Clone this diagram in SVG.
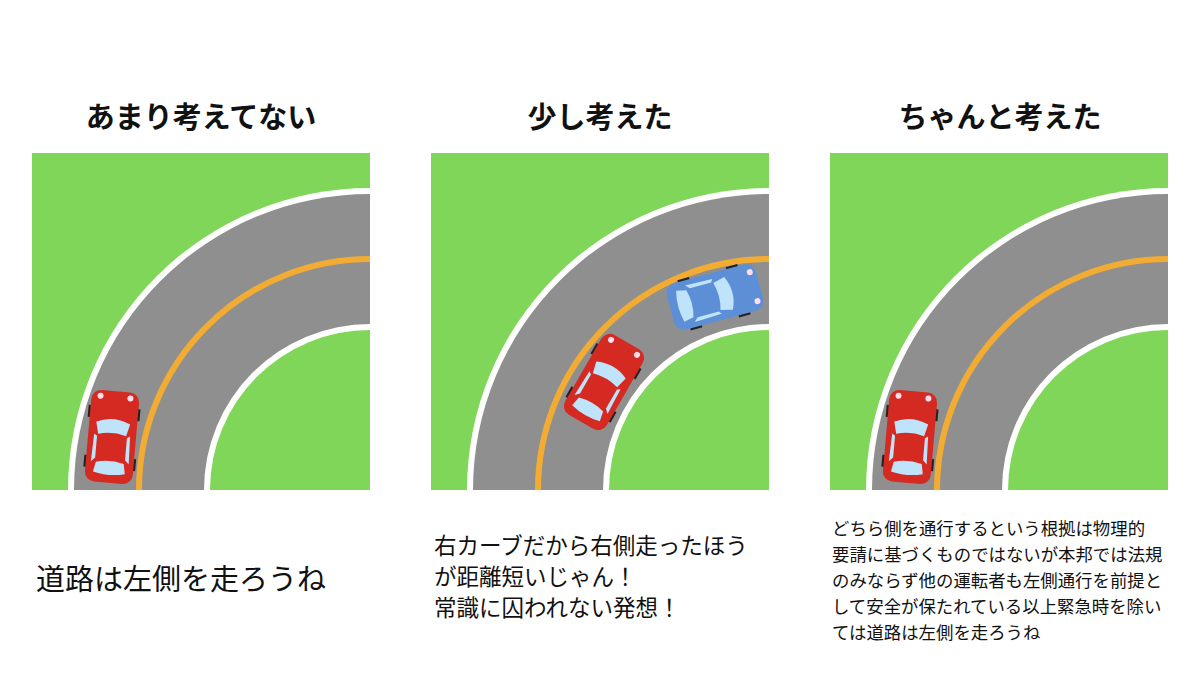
<svg xmlns="http://www.w3.org/2000/svg" width="1200" height="675" viewBox="0 0 1200 675">
<style>
.t{font-family:"Noto Sans CJK JP",sans-serif;font-weight:bold;font-size:29px;text-anchor:middle;fill:#111}
.b{font-family:"Noto Sans CJK JP",sans-serif;fill:#111}
.g{fill:#7fd658}
</style>
<defs>
<g id="road">
<rect class="g" x="0" y="0" width="338" height="337"/>
<circle cx="338" cy="337" r="302" fill="#fff"/>
<circle cx="338" cy="337" r="296" fill="#8f8f8f"/>
<circle cx="338" cy="337" r="231" fill="none" stroke="#f2ac33" stroke-width="6"/>
<circle cx="338" cy="337" r="166" fill="#fff"/>
<circle cx="338" cy="337" r="160" class="g"/>
</g>
<clipPath id="cp"><rect x="0" y="0" width="338" height="337"/></clipPath>
<g id="car">
<rect x="-26" y="-30" width="4" height="12" fill="#222"/><rect x="22" y="-30" width="4" height="12" fill="#222"/>
<rect x="-26" y="20" width="4" height="12" fill="#222"/><rect x="22" y="20" width="4" height="12" fill="#222"/>
<rect x="-24" y="-46" width="48" height="92" rx="10"/>
<path d="M-17,-14 Q0,-22 17,-14 L14,-2 Q0,-6 -14,-2 Z" fill="#bfe3fa"/>
<path d="M-14,26 Q0,22 14,26 L16,36 Q0,40 -16,36 Z" fill="#bfe3fa"/>
<path d="M-18,-2 L-15,0 L-15,22 L-19,26 Z M18,-2 L15,0 L15,22 L19,26 Z" fill="#bfe3fa"/>
<circle cx="-15" cy="-40" r="3" fill="#fde"/><circle cx="15" cy="-40" r="3" fill="#fde"/>
</g>
</defs>
<g id="title1"><text class="t" x="201" y="128">あまり考えてない</text></g>
<g id="title2"><text class="t" x="600" y="128">少し考えた</text></g>
<g id="title3"><text class="t" x="1000" y="128">ちゃんと考えた</text></g>
<g id="panel1" transform="translate(32,153)"><g clip-path="url(#cp)"><use href="#road"/></g>
<use href="#car" transform="translate(80,284) rotate(5)" style="fill:#d42a22"/></g>
<g id="panel2" transform="translate(431,153)"><g clip-path="url(#cp)"><use href="#road"/></g>
<use href="#car" transform="translate(173,229) rotate(30)" style="fill:#d42a22"/>
<use href="#car" transform="translate(284,144) rotate(75)" style="fill:#5c8fd6"/></g>
<g id="panel3" transform="translate(830,153)"><g clip-path="url(#cp)"><use href="#road"/></g>
<use href="#car" transform="translate(80,284) rotate(5)" style="fill:#d42a22"/></g>
<g id="text1"><text class="b" x="36" y="590" font-size="29">道路は左側を走ろうね</text></g>
<g id="text2" font-size="22.5"><text class="b" x="434" y="554">右カーブだから右側走ったほう</text><text class="b" x="434" y="585">が距離短いじゃん！</text><text class="b" x="434" y="616">常識に囚われない発想！</text></g>
<g id="text3" font-size="17.4"><text class="b" x="832" y="535">どちら側を通行するという根拠は物理的</text><text class="b" x="832" y="561">要請に基づくものではないが本邦では法規</text><text class="b" x="832" y="587">のみならず他の運転者も左側通行を前提と</text><text class="b" x="832" y="613">して安全が保たれている以上緊急時を除い</text><text class="b" x="832" y="639">ては道路は左側を走ろうね</text></g>
</svg>
